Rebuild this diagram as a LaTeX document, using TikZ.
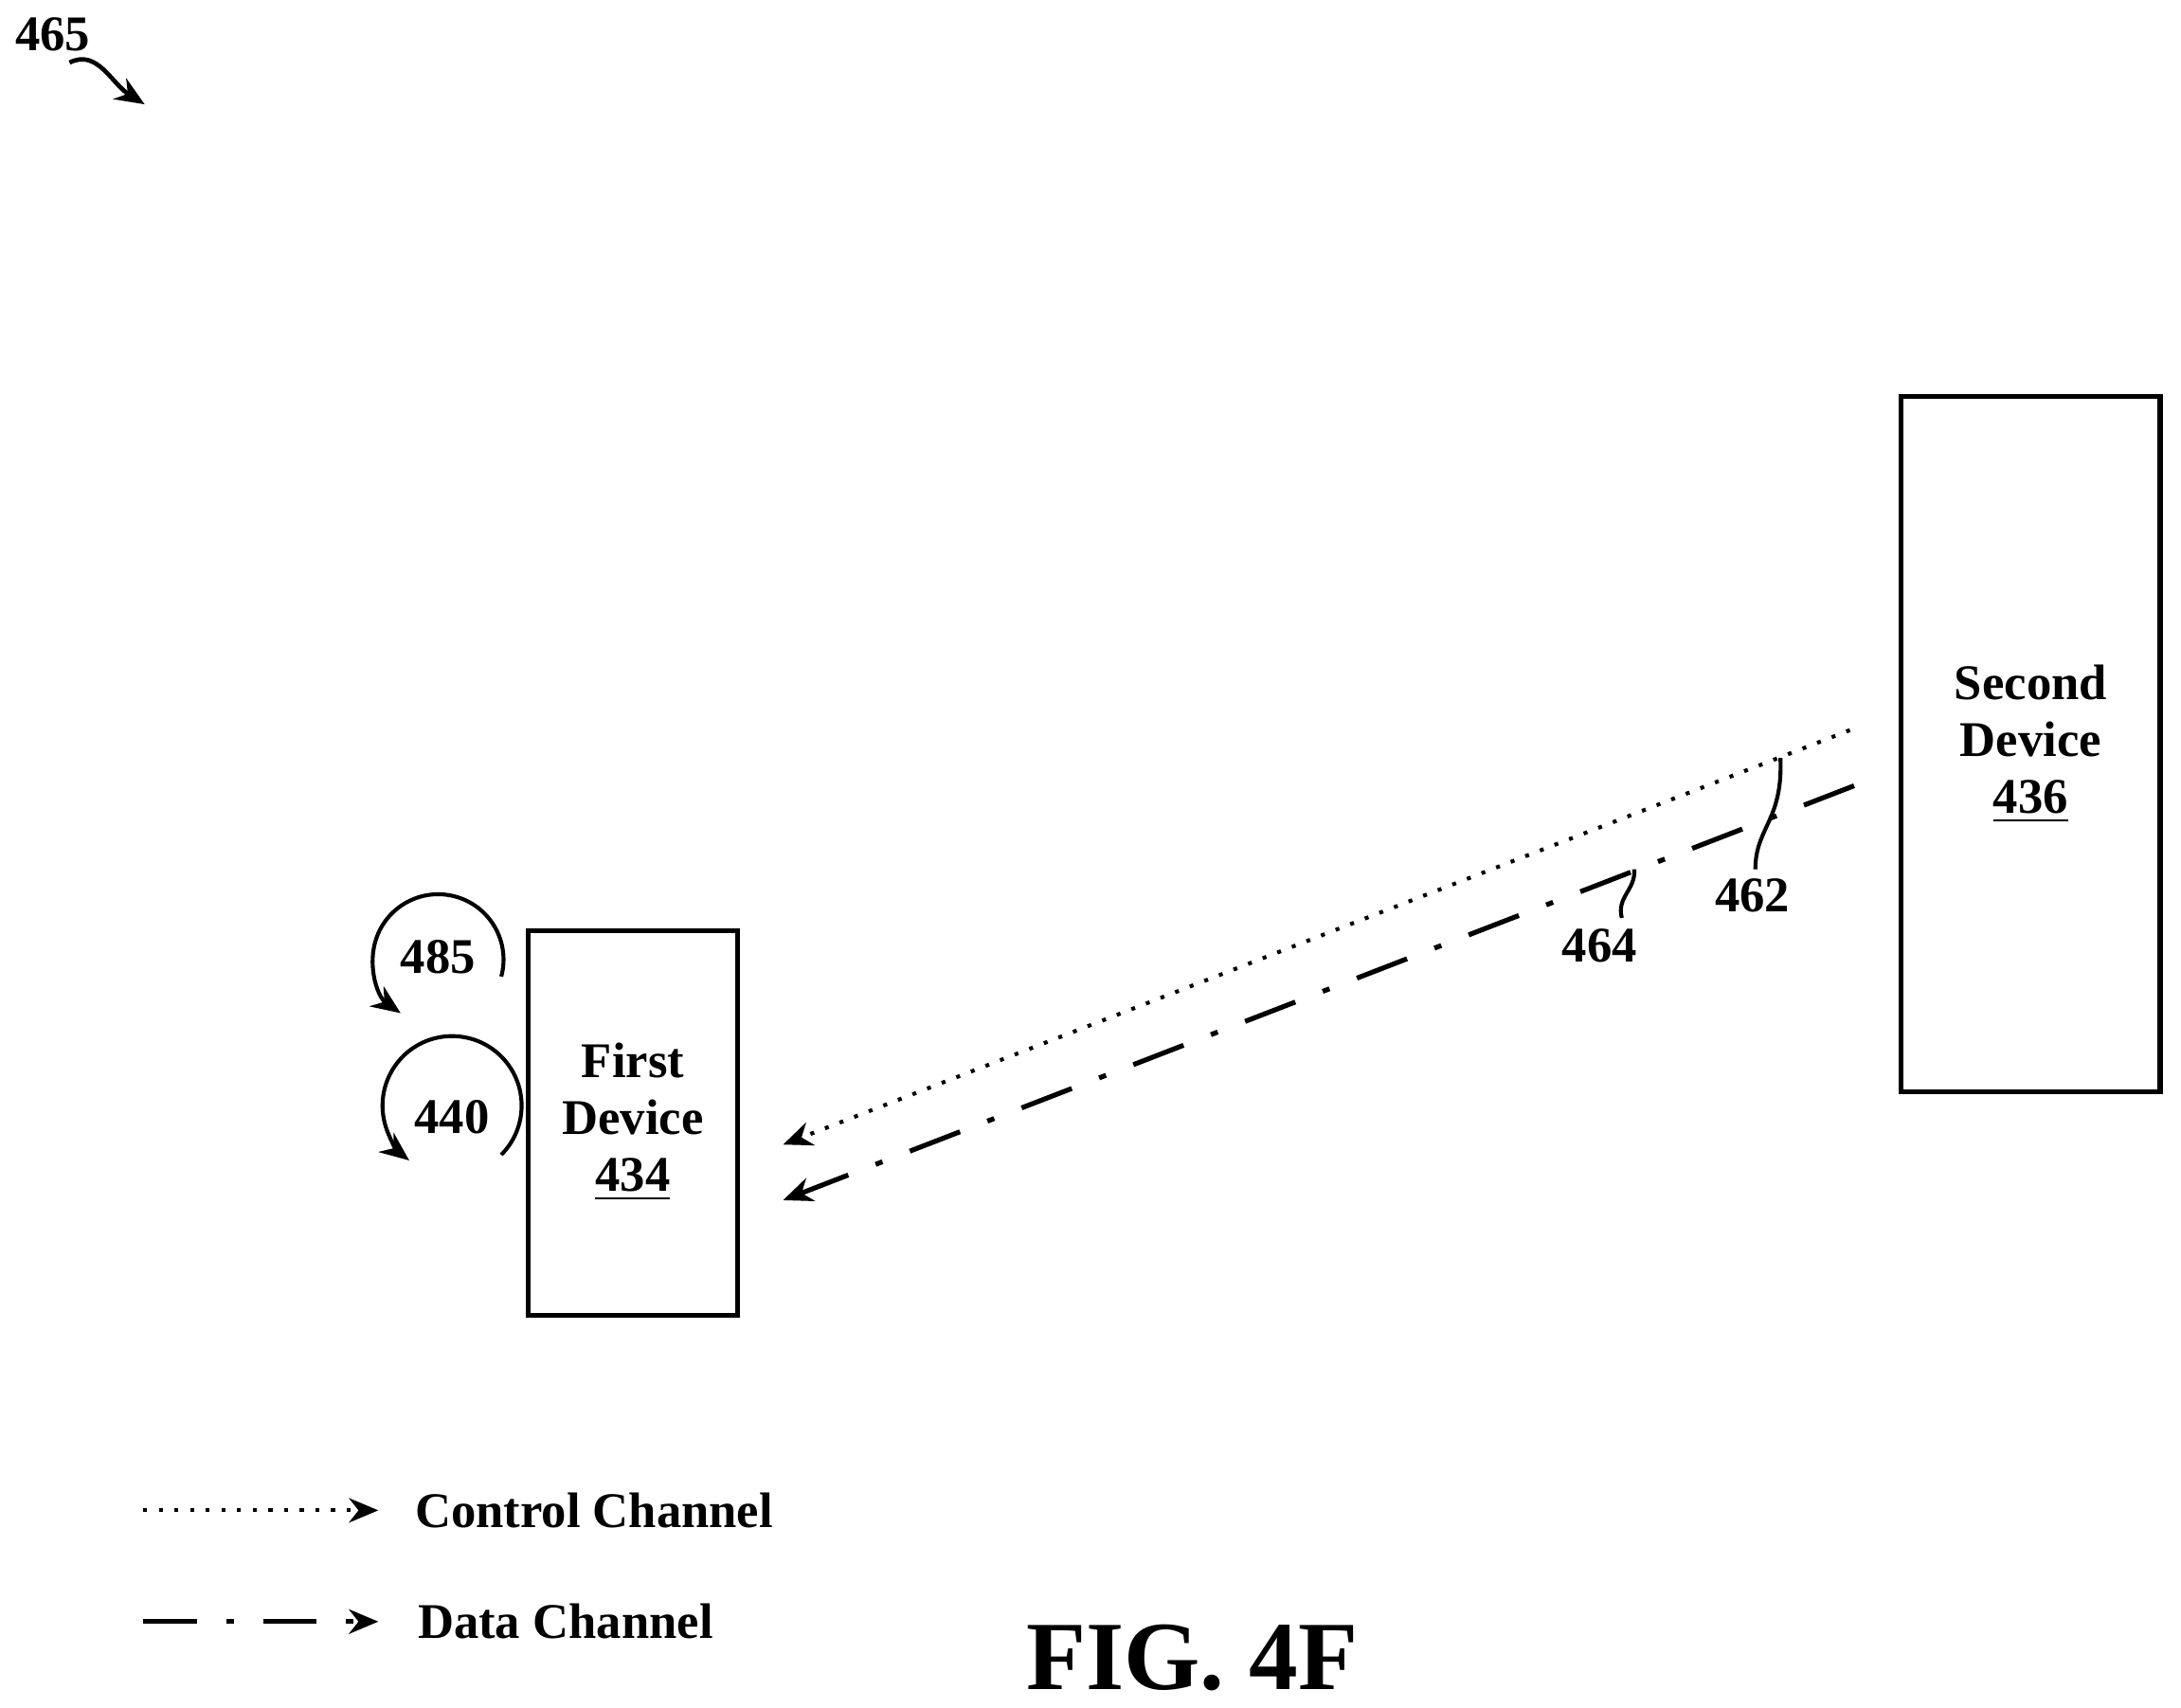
\documentclass[tikz,border=0pt]{standalone}
\usepackage{fontspec}
\setmainfont{Liberation Serif}
\usetikzlibrary{arrows.meta}
\begin{document}
\begin{tikzpicture}[x=0.01cm,y=-0.01cm,
  box/.style={draw,line width=1pt},
  lbl/.style={font=\fontsize{10.2}{11.6}\selectfont\bfseries},
  tip/.style={-{Stealth[length=6pt,width=5pt]}},
  dashdot/.style={dash pattern=on 11pt off 6pt on 1.5pt off 6pt, line width=1pt},
  dot/.style={dash pattern=on 0.8pt off 2.4pt, line width=0.8pt}]
\useasboundingbox (0,0) rectangle (1568,1228);
\node[lbl] (n465) at (38,25) {465};
\coordinate (s1) at (50,45); \coordinate (s2) at (104,75);
\draw[tip,line width=0.9pt] (s1) .. controls (70,35) and (80,60) .. (s2);
\draw[box] (1367,285) rectangle (1553,785);
\node[lbl,align=center] (second) at (1460,535) {Second\\Device\\\underline{436}};
\draw[box] (380,669) rectangle (530,946);
\node[lbl,align=center] (first) at (455,807) {First\\Device\\\underline{434}};
\coordinate (c1) at (1330,525); \coordinate (c2) at (563,823);
\coordinate (d1) at (1333,565); \coordinate (d2) at (563,863);
\draw[dot,tip] (c1) -- (c2);
\draw[dashdot,tip] (d1) -- (d2);
\node[lbl] (l462) at (1260,644) {462};
\draw[line width=0.8pt] (1262,625) .. controls (1262,595) and (1282,590) .. (1280,545);
\node[lbl] (l464) at (1150,680) {464};
\draw[line width=0.8pt] (1166,660) .. controls (1162,645) and (1176,640) .. (1175,625);
\node[lbl] (l485) at (315,688) {485};
\draw[tip,line width=0.8pt] (315,690) ++(15:47) arc[start angle=15,end angle=-235,radius=47];
\node[lbl] (l440) at (325,803) {440};
\draw[tip,line width=0.8pt] (325,795) ++(45:50) arc[start angle=45,end angle=-232,radius=50];
\coordinate (a1) at (103,1086); \coordinate (a2) at (272,1086);
\coordinate (b1) at (103,1166); \coordinate (b2) at (272,1166);
\draw[dot,tip] (a1) -- (a2);
\draw[dashdot,tip] (b1) -- (b2);
\node[lbl,anchor=west] (cc) at (286,1086) {Control Channel};
\node[lbl,anchor=west] (dc) at (288,1166) {Data Channel};
\node[font=\fontsize{20}{24}\selectfont\bfseries] (fig) at (857,1192) {FIG. 4F};
\end{tikzpicture}
\end{document}
